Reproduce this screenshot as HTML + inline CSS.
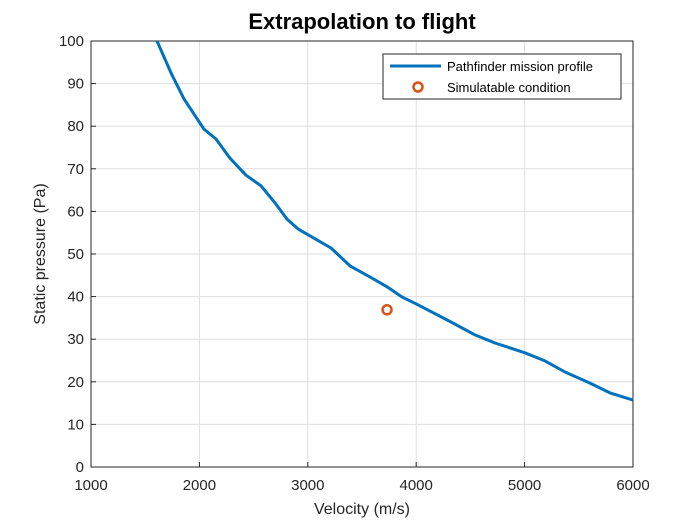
<!DOCTYPE html>
<html><head><meta charset="utf-8"><style>
body{margin:0;background:#fff;}
svg{display:block;font-family:"Liberation Sans",Arial,sans-serif;}
</style></head><body>
<svg id="chart" width="700" height="525">
<rect x="0" y="0" width="700" height="525" fill="#fff"/>
<g id="grid"></g>
<g id="ticks"></g>
<rect x="91" y="41" width="542" height="426" fill="none" stroke="#262626" stroke-width="1"/>
<g id="series"></g>
<text x="362" y="29" text-anchor="middle" font-size="22" font-weight="bold" fill="#000">Extrapolation to flight</text>
<text x="362" y="514" text-anchor="middle" font-size="16" fill="#262626">Velocity (m/s)</text>
<text x="0" y="0" transform="translate(45,254) rotate(-90)" text-anchor="middle" font-size="16" fill="#262626">Static pressure (Pa)</text>
<g>
<rect x="383" y="54" width="238" height="45" fill="#fff" stroke="#262626" stroke-width="1"/>
<line x1="390" y1="66" x2="441" y2="66" stroke="#0072BD" stroke-width="3"/>
<text x="447" y="71" font-size="13" fill="#000">Pathfinder mission profile</text>
<circle cx="418" cy="87" r="4.5" fill="none" stroke="#D95319" stroke-width="2.5"/>
<text x="447" y="92" font-size="13" fill="#000">Simulatable condition</text>
</g>
</svg>
<script>
const profileVelocity=[1609,1738,1858,2042,2153,2282,2430,2568,2697,2808,2910,3085,3214,3389,3574,3731,3869,3998,4127,4339,4542,4727,5003,5188,5373,5603,5788,6000];
const profilePressure=[100,92.5,86.4,79.3,77,72.5,68.5,66,62,58.2,55.9,53.3,51.4,47.2,44.6,42.3,39.9,38.3,36.6,33.8,31,29.1,26.8,24.9,22.3,19.7,17.4,15.7];
const conditionVelocity=[3731];
const conditionPressure=[36.9];
const xTicks=[1000,2000,3000,4000,5000,6000];
const yTicks=[0,10,20,30,40,50,60,70,80,90,100];
const NS="http://www.w3.org/2000/svg";
const X=v=>91+(v-1000)/5000*542;
const Y=p=>467-p/100*426;
function mk(tag,attrs,parent){const e=document.createElementNS(NS,tag);for(const k in attrs)e.setAttribute(k,attrs[k]);parent.appendChild(e);return e;}
const grid=document.getElementById('grid'),ticks=document.getElementById('ticks'),series=document.getElementById('series');
xTicks.forEach(t=>{
 const g=mk('line',{x1:X(t),x2:X(t),y1:41,y2:467,stroke:'#dfdfdf','stroke-width':1},grid);
 
 
 const tk=mk('line',{x1:X(t),x2:X(t),y1:467,y2:462,stroke:'#262626'},ticks);
 
 
 const tx=mk('text',{x:X(t),y:490,'text-anchor':'middle','font-size':15,fill:'#262626'},ticks);
 tx.textContent=t;
 
 
});
yTicks.forEach(t=>{
 const g=mk('line',{x1:91,x2:633,y1:Y(t),y2:Y(t),stroke:'#dfdfdf','stroke-width':1},grid);
 
 
 const tk=mk('line',{x1:91,x2:96,y1:Y(t),y2:Y(t),stroke:'#262626'},ticks);
 
 
 const tx=mk('text',{x:84,y:Y(t)+5,'text-anchor':'end','font-size':15,fill:'#262626'},ticks);
 tx.textContent=t;
 
 
});
const d=profileVelocity.map((v,i)=>(i?'L':'M')+X(v).toFixed(1)+','+Y(profilePressure[i]).toFixed(1)).join(' ');
const line=mk('path',{d:d,fill:'none',stroke:'#0072BD','stroke-width':3,'stroke-linejoin':'round'},series);


conditionVelocity.forEach((v,i)=>{
 const c=mk('circle',{cx:X(v),cy:Y(conditionPressure[i]),r:4.5,fill:'none',stroke:'#D95319','stroke-width':2.5},series);
 
 
});
</script>
</body></html>
